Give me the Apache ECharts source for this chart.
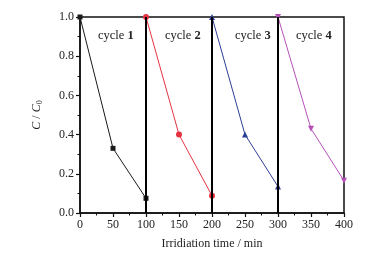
<!DOCTYPE html>
<html>
<head>
<meta charset="utf-8">
<script src="https://cdn.jsdelivr.net/npm/echarts@6/dist/echarts.min.js"></script>
<style>
html, body { margin: 0; padding: 0; background: #fff; }
#main { width: 377px; height: 255px; }
</style>
</head>
<body>
<div id="main"></div>
<script>
// data
var cycle1 = [[0, 1.0], [50, 0.33], [100, 0.075]];
var cycle2 = [[100, 1.0], [150, 0.40], [200, 0.088]];
var cycle3 = [[200, 1.0], [250, 0.40], [300, 0.135]];
var cycle4 = [[300, 1.0], [350, 0.43], [400, 0.165]];
var cycleBreaks = [100, 200, 300];
var cycleNames = ['1', '2', '3', '4'];
var cycleLabelX = [98, 165, 235, 296];

var chart = echarts.init(document.getElementById('main'));
var serif = '"Liberation Serif", "DejaVu Serif", serif';

function makeSeries(data, color, symbol, rotate, extra) {
    var s = {
        type: 'line',
        data: data,
        symbol: symbol,
        symbolSize: symbol === 'rect' ? 5 : 6,
        symbolRotate: rotate || 0,
        clip: false,
        z: 3,
        lineStyle: { color: color, width: 1 },
        itemStyle: { color: color }
    };
    if (extra) {
        s.markLine = {
            silent: true,
            symbol: 'none',
            label: { show: false },
            lineStyle: { color: '#000', width: 2, type: 'solid' },
            data: cycleBreaks.map(function (v) { return { xAxis: v }; })
        };
    }
    return s;
}

var option = {
    animation: false,
    grid: {
        left: 80, right: 33, top: 17, bottom: 42,
        show: true, borderColor: '#111', borderWidth: 1.5, backgroundColor: 'transparent'
    },
    xAxis: {
        type: 'value', min: 0, max: 400, interval: 50,
        name: 'Irridiation time / min',
        nameLocation: 'middle', nameGap: 25,
        nameTextStyle: { fontFamily: serif, fontSize: 12, color: '#222' },
        axisLine: { show: true, lineStyle: { color: '#111', width: 1.5 } },
        axisTick: { show: true, inside: false, length: 4, lineStyle: { color: '#111', width: 1.2 } },
        minorTick: { show: true, splitNumber: 2, length: 2.5, lineStyle: { color: '#111', width: 1 } },
        axisLabel: { fontFamily: serif, fontSize: 12, color: '#222', margin: 6 },
        splitLine: { show: false }
    },
    yAxis: {
        type: 'value', min: 0, max: 1.0, interval: 0.2,
        name: '{i|C} / {i|C}{s|0}',
        nameLocation: 'middle', nameGap: 36, nameRotate: 90,
        nameTextStyle: {
            fontFamily: serif, fontSize: 12, color: '#222',
            rich: {
                i: { fontFamily: serif, fontStyle: 'italic', fontSize: 12, color: '#222' },
                s: { fontFamily: serif, fontSize: 8, color: '#222', verticalAlign: 'bottom', padding: [6, 0, 0, 0] }
            }
        },
        axisLine: { show: true, lineStyle: { color: '#111', width: 1.5 } },
        axisTick: { show: true, inside: false, length: 4, lineStyle: { color: '#111', width: 1.2 } },
        minorTick: { show: true, splitNumber: 2, length: 2.5, lineStyle: { color: '#111', width: 1 } },
        axisLabel: {
            fontFamily: serif, fontSize: 12, color: '#222', margin: 6,
            formatter: function (v) { return v.toFixed(1); }
        },
        splitLine: { show: false }
    },
    graphic: cycleNames.map(function (n, i) {
        return {
            type: 'text',
            left: cycleLabelX[i],
            top: 29,
            style: {
                text: 'cycle {b|' + n + '}',
                font: '12.5px ' + serif,
                fill: '#222',
                rich: { b: { fontFamily: serif, fontWeight: 'bold', fontSize: 12.5, fill: '#222' } }
            }
        };
    }),
    series: [
        makeSeries(cycle1, '#1a1a1a', 'rect', 0, true),
        makeSeries(cycle2, '#e5323f', 'circle', 0),
        makeSeries(cycle3, '#2b3f94', 'triangle', 0),
        makeSeries(cycle4, '#b550b8', 'triangle', 180)
    ]
};

chart.setOption(option);
</script>
</body>
</html>
